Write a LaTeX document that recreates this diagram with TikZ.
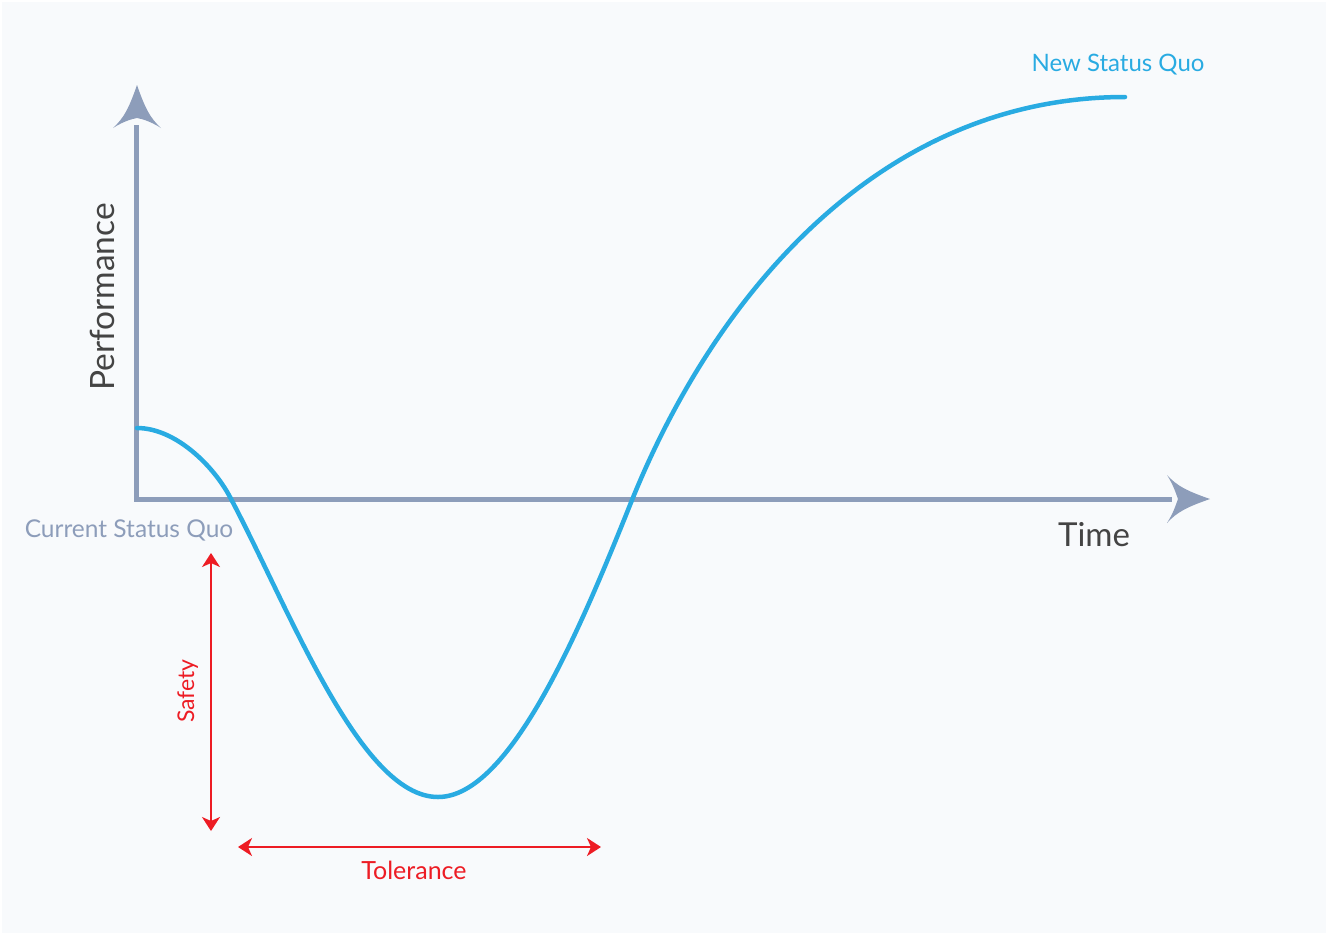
\documentclass[tikz,border=0pt]{standalone}
\usepackage{fontspec}
\setmainfont{Lato}
\usetikzlibrary{arrows.meta}
\definecolor{axisc}{HTML}{8D9DBA}
\definecolor{curvec}{HTML}{29ABE2}
\definecolor{redc}{HTML}{ED1C24}
\definecolor{darkt}{HTML}{444444}
\definecolor{bgc}{HTML}{F8FAFC}
\begin{document}
\begin{tikzpicture}[x=1pt,y=-1pt,
  axis/.style={draw=axisc,line width=5pt},
  axhead/.style={fill=axisc},
  curve/.style={draw=curvec,line width=4.5pt,line cap=round},
  measure/.style={draw=redc,line width=2pt,{Stealth[length=14pt,width=18pt,inset=4pt]}-{Stealth[length=14pt,width=18pt,inset=4pt]}},
  lbl/.style={inner sep=0pt}]
\useasboundingbox (0,0) rectangle (1328,935);
\fill[white] (0,0) rectangle (1328,935);
\fill[bgc] (2,2) rectangle (1326,933);
% axes
\coordinate (O) at (136,499);
\draw[axis] (136,125) -- (O) -- (1172,499);
\fill[axhead] (137,85) .. controls (145,108) and (150,118) .. (161,128)
   .. controls (150,121) and (142,119) .. (137,118)
   .. controls (132,119) and (124,121) .. (113,128)
   .. controls (124,118) and (129,108) .. (137,85) -- cycle;
\fill[axhead] (1210,499) .. controls (1187,507) and (1177,512) .. (1167,523)
   .. controls (1174,512) and (1176,504) .. (1178,499)
   .. controls (1176,494) and (1174,486) .. (1167,475)
   .. controls (1177,486) and (1187,491) .. (1210,499) -- cycle;
% curve
\coordinate (c0) at (137,428);
\coordinate (c1) at (230,497);
\coordinate (cmin) at (438,797);
\coordinate (c3) at (632,500);
\coordinate (cend) at (1125,97);
\draw[curve] (c0) .. controls (175,428) and (213,465) .. (c1)
  .. controls (290,610) and (360,797) .. (cmin)
  .. controls (510,797) and (580,630) .. (c3)
  .. controls (715,295) and (880,97) .. (cend);
% measures
\coordinate (s1) at (211,553);
\coordinate (s2) at (211,831);
\coordinate (t1) at (238,847);
\coordinate (t2) at (601,847);
\draw[measure] (s1) -- (s2);
\draw[measure] (t1) -- (t2);
% labels
\node[lbl,text=axisc,font=\fontsize{24.5}{28}\selectfont,anchor=base] (csq) at (129,537) {Current Status Quo};
\node[lbl,text=curvec,font=\fontsize{24}{28}\selectfont,anchor=base] (nsq) at (1118,71) {New Status Quo};
\node[lbl,text=darkt,font=\fontsize{33}{36}\selectfont,anchor=base] (time) at (1094,546) {Time};
\node[lbl,text=darkt,font=\fontsize{33.5}{36}\selectfont,anchor=base,rotate=90] (perf) at (114,297) {Performance};
\node[lbl,text=redc,font=\fontsize{23}{26}\selectfont,anchor=base,rotate=90] (safety) at (194,691) {Safety};
\node[lbl,text=redc,font=\fontsize{25}{28}\selectfont,anchor=base] (tol) at (414,879) {Tolerance};
\end{tikzpicture}
\end{document}
